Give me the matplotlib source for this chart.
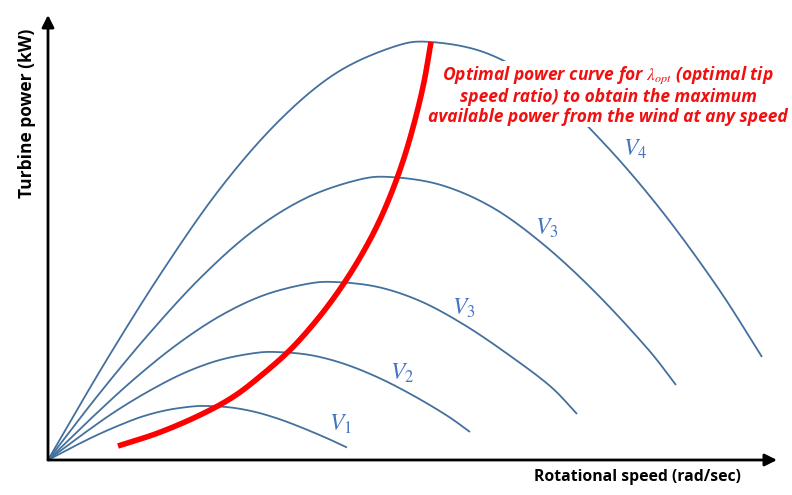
import numpy as np
import matplotlib
matplotlib.use("Agg")
import matplotlib.pyplot as plt

plt.rcParams['mathtext.fontset'] = 'stix'

# Curves: x = rotational speed, y = turbine power (arbitrary units)
v1_x = [0, 24, 48, 72, 95, 119, 143, 159, 183, 207, 231, 254, 278, 299]
v1_y = [0, 12.6, 24.5, 35.0, 43.7, 49.9, 53.4, 54, 52.5, 48.1, 41.0, 32.3, 22.2, 12.5]

v2_x = [0, 34, 68, 103, 137, 171, 205, 228, 262, 296, 331, 365, 399, 422]
v2_y = [0, 25.2, 49.0, 70.1, 87.4, 99.8, 106.7, 108, 105, 96.2, 82.1, 64.6, 44.4, 28]

v3a_x = [0, 43, 86, 129, 172, 215, 258, 287, 330, 373, 416, 459, 502, 529]
v3a_y = [0, 41.5, 80.8, 115.5, 144, 164.5, 175.9, 178, 173, 158.6, 135.3, 106.4, 74, 46]

v3b_x = [0, 51, 103, 154, 205, 257, 308, 342, 393, 445, 496, 547, 599, 628]
v3b_y = [0, 66, 128.5, 183.7, 229, 261.5, 279.6, 283, 275, 252.2, 215.1, 168, 112, 75]

v4_x = [0, 57, 115, 172, 230, 287, 345, 383, 440, 498, 555, 613, 670, 714]
v4_y = [0, 97.4, 189.8, 271.3, 338.2, 386.2, 413, 418, 406.3, 372.4, 317.7, 250, 172, 103]

opt_x = [70, 110, 150, 185, 215, 243, 268, 290, 310, 328, 343, 356, 367, 376, 383]
opt_y = [14, 27, 44, 63, 86, 111, 139, 168, 199, 232, 266, 302, 340, 378, 418]

labels = ["$V_1$", "$V_2$", "$V_3$", "$V_3$", "$V_4$"]
label_pos_x = [292, 354, 416, 499, 587]
label_pos_y = [36, 87, 152, 232, 311]

title_text = ("Optimal power curve for $\\lambda_{opt}$ (optimal tip\n"
              "speed ratio) to obtain the maximum\n"
              "available power from the wind at any speed")


def smooth(x, y, n=20):
    """Catmull-Rom rendering through the read points."""
    p = np.column_stack([x, y]).astype(float)
    p = np.vstack([2 * p[0] - p[1], p, 2 * p[-1] - p[-2]])
    out = []
    t = np.linspace(0, 1, n, endpoint=False)[:, None]
    for i in range(1, len(p) - 2):
        p0, p1, p2, p3 = p[i - 1], p[i], p[i + 1], p[i + 2]
        seg = 0.5 * ((2 * p1) + (-p0 + p2) * t + (2 * p0 - 5 * p1 + 4 * p2 - p3) * t ** 2
                     + (-p0 + 3 * p1 - 3 * p2 + p3) * t ** 3)
        out.append(seg)
    out.append(p[-2][None, :])
    out = np.vstack(out)
    return out[:, 0], out[:, 1]


fig = plt.figure(figsize=(7.92, 4.95), dpi=100)
ax = fig.add_axes([0, 0, 1, 1])
ax.set_xlim(-48, 744)
ax.set_ylim(-35, 460)
ax.axis('off')

blue = '#44709d'
for xs, ys in [(v1_x, v1_y), (v2_x, v2_y), (v3a_x, v3a_y), (v3b_x, v3b_y), (v4_x, v4_y)]:
    sx, sy = smooth(xs, ys)
    ax.plot(sx, sy, color=blue, lw=1.3, zorder=2, solid_capstyle='butt')

sx, sy = smooth(opt_x, opt_y)
ax.plot(sx, sy, color='#ff0000', lw=4.0, zorder=5, solid_capstyle='butt')

for lab, lx, ly in zip(labels, label_pos_x, label_pos_y):
    ax.text(lx, ly, lab, color='#4472c4', fontsize=17, ha='center', va='center', zorder=3)

# axes arrows
arrow_kw = dict(arrowstyle='-|>', lw=2.0, color='black', mutation_scale=18,
                shrinkA=0, shrinkB=0)
ax.annotate('', xy=(729, 0), xytext=(0, 0), arrowprops=arrow_kw, zorder=6)
ax.annotate('', xy=(0, 445), xytext=(0, 0), arrowprops=arrow_kw, zorder=6)

ax.text(-21, 347, "Turbine power (kW)", rotation=90, fontsize=12.5, fontweight='bold',
        family='Open Sans', ha='center', va='center')
ax.text(589, -17, "Rotational speed (rad/sec)", fontsize=11.3, fontweight='bold',
        family='Open Sans', ha='center', va='center')

ax.text(560, 365, title_text, color='#f01010', fontsize=12.5, fontweight='bold',
        fontstyle='italic', family='Open Sans', ha='center', va='center',
        linespacing=1.15, zorder=4,
        bbox=dict(facecolor='white', edgecolor='none', pad=0.5))

fig.savefig('out.png', dpi=100)
